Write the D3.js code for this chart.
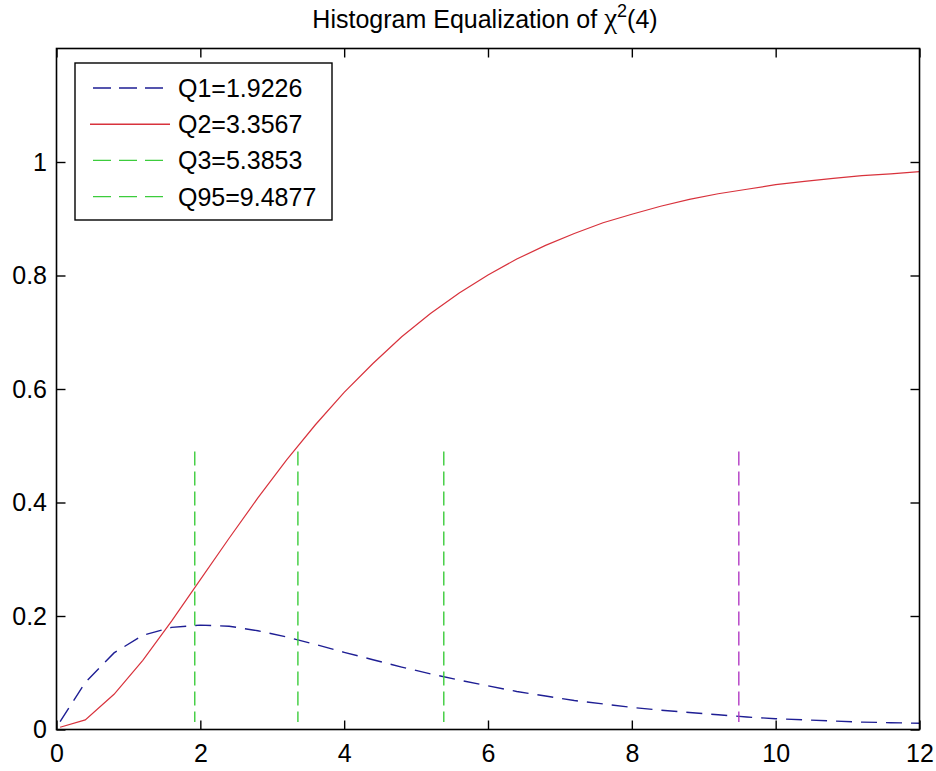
<!DOCTYPE html>
<html>
<head>
<meta charset="utf-8">
<script src="https://cdn.jsdelivr.net/npm/d3@7"></script>
<style>
  body { margin: 0; background: #fff; }
  svg text { font-family: "Liberation Sans", Arial, sans-serif; fill: #000; }
</style>
</head>
<body>
<div id="grafico"></div>
<script>
const xs = [0.05, 0.4, 0.8, 1.2, 1.6, 2.0, 2.4, 2.8, 3.2, 3.6, 4.0, 4.4, 4.8, 5.2, 5.6, 6.0,
            6.4, 6.8, 7.2, 7.6, 8.0, 8.4, 8.8, 9.2, 9.6, 10.0, 10.4, 10.8, 11.2, 11.6, 12.0];
const densidade = [0.014, 0.083, 0.135, 0.166, 0.180, 0.184, 0.182, 0.174, 0.163, 0.150, 0.136,
                   0.123, 0.110, 0.098, 0.087, 0.077, 0.067, 0.059, 0.051, 0.045, 0.039, 0.034,
                   0.030, 0.026, 0.022, 0.019, 0.017, 0.015, 0.013, 0.012, 0.011];
const acumulada = [0.004, 0.017, 0.062, 0.122, 0.191, 0.264, 0.337, 0.408, 0.475, 0.537, 0.594,
                   0.645, 0.692, 0.733, 0.769, 0.801, 0.829, 0.853, 0.874, 0.893, 0.908, 0.922,
                   0.934, 0.944, 0.952, 0.960, 0.966, 0.971, 0.976, 0.979, 0.983];

// quantis (linhas verticais)
const quantis = [1.9226, 3.3567, 5.3853, 9.4877];
const corQuantil = ["#3ccc3c", "#3ccc3c", "#3ccc3c", "#b23cc4"];
const quantilTopo = 0.49;
const quantilBase = 0.013;

const legendaTextos = ["Q1=1.9226", "Q2=3.3567", "Q3=5.3853", "Q95=9.4877"];
const ticksX = [0, 2, 4, 6, 8, 10, 12];
const ticksY = [0, 0.2, 0.4, 0.6, 0.8, 1];

const cores = { azul: "#1e1e94", vermelho: "#d8323c", verde: "#3ccc3c", magenta: "#b23cc4" };

const W = 936, H = 771;
const esq = 56.5, dir = 919.5, topo = 48.5, base = 729.5;

const svg = d3.select("#grafico").append("svg")
    .attr("width", W).attr("height", H);

const x = d3.scaleLinear().domain([0, 12]).range([esq, dir]);
const y = d3.scaleLinear().domain([0, 1.2]).range([base, topo]);

// título
const titulo = svg.append("text")
    .attr("x", 485).attr("y", 28)
    .attr("text-anchor", "middle")
    .style("font-size", "25px");
titulo.append("tspan").text("Histogram Equalization of ");
titulo.append("tspan").text("χ").style("font-family", "'Liberation Serif', serif").style("font-size", "29px");
titulo.append("tspan").text("2").attr("dy", -11).style("font-size", "18px");
titulo.append("tspan").text("(4)").attr("dy", 11);

// curvas
const linha = d3.line().x((d, i) => x(xs[i])).y(d => y(d));

svg.append("path").datum(densidade)
    .attr("d", linha).attr("fill", "none")
    .attr("stroke", cores.azul).attr("stroke-width", 1.4)
    .attr("stroke-dasharray", "16,9");

svg.append("path").datum(acumulada)
    .attr("d", linha).attr("fill", "none")
    .attr("stroke", cores.vermelho).attr("stroke-width", 1.2);

// linhas verticais dos quantis
svg.selectAll(".quantil").data(quantis).enter().append("line")
    .attr("class", "quantil")
    .attr("x1", d => x(d)).attr("x2", d => x(d))
    .attr("y1", y(quantilTopo)).attr("y2", y(quantilBase))
    .attr("stroke", (d, i) => corQuantil[i])
    .attr("stroke-width", 1.4)
    .attr("stroke-dasharray", "14,6");

// eixos (ticks para dentro, caixa fechada)
const tam = 9;
const eixoX = svg.append("g").attr("transform", `translate(0,${base})`)
    .call(d3.axisBottom(x).tickValues(ticksX).tickSizeInner(-tam).tickSizeOuter(0).tickPadding(15).tickFormat(d3.format("d")));
const eixoXtopo = svg.append("g").attr("transform", `translate(0,${topo})`)
    .call(d3.axisTop(x).tickValues(ticksX).tickSizeInner(-tam).tickSizeOuter(0).tickFormat(""));
const eixoY = svg.append("g").attr("transform", `translate(${esq},0)`)
    .call(d3.axisLeft(y).tickValues(ticksY).tickSizeInner(-tam).tickSizeOuter(0).tickPadding(9.5).tickFormat(d => d === 0 || d === 1 ? d3.format("d")(d) : d3.format(".1f")(d)));
const eixoYdir = svg.append("g").attr("transform", `translate(${dir},0)`)
    .call(d3.axisRight(y).tickValues(ticksY).tickSizeInner(-tam).tickSizeOuter(0).tickFormat(""));

[eixoX, eixoXtopo, eixoY, eixoYdir].forEach(g => {
    g.select(".domain").remove();
    g.selectAll("line").attr("stroke", "#000").attr("stroke-width", 1.4);
    g.selectAll("text").style("font-size", "25px").attr("fill", "#000")
        .style("font-family", "'Liberation Sans', Arial, sans-serif");
});

svg.append("rect")
    .attr("x", esq).attr("y", topo)
    .attr("width", dir - esq).attr("height", base - topo)
    .attr("fill", "none").attr("stroke", "#000").attr("stroke-width", 1.6);

// legenda
const leg = svg.append("g");
leg.append("rect")
    .attr("x", 75).attr("y", 63).attr("width", 257).attr("height", 157)
    .attr("fill", "#fff").attr("stroke", "#000").attr("stroke-width", 1.4);

const legEstilos = [
    { cor: cores.azul, dash: "18,8" },
    { cor: cores.vermelho, dash: null },
    { cor: cores.verde, dash: "18,8" },
    { cor: cores.verde, dash: "18,8" }
];

legendaTextos.forEach((t, i) => {
    const cy = 88 + i * 36.2;
    const l = leg.append("line")
        .attr("x1", 90).attr("x2", 170)
        .attr("y1", cy).attr("y2", cy)
        .attr("stroke", legEstilos[i].cor).attr("stroke-width", 1.4);
    if (legEstilos[i].dash) l.attr("stroke-dasharray", legEstilos[i].dash).attr("stroke-dashoffset", -3);
    leg.append("text")
        .attr("x", 178).attr("y", cy + 9)
        .style("font-size", "25px")
        .text(t);
});
</script>
</body>
</html>
